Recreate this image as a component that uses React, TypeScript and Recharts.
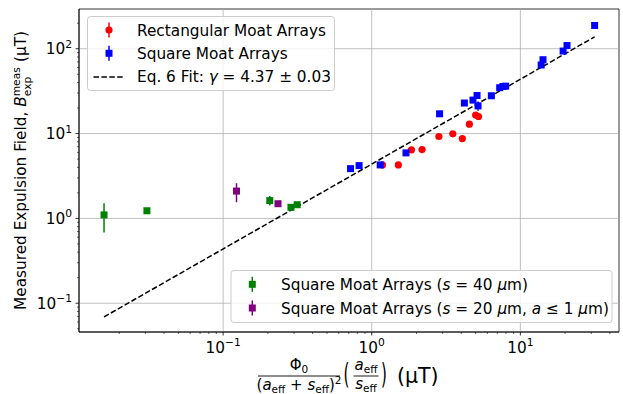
import React from "react";
import {
  ScatterChart,
  Scatter,
  XAxis,
  YAxis,
  ErrorBar,
  ReferenceLine,
  ReferenceArea,
} from "recharts";

// Rectangular moat arrays (red circles)
const rectX = [1.18, 1.51, 1.85, 2.18, 2.83, 3.51, 4.07, 4.54, 5.0, 5.23];
const rectY = [4.27, 4.27, 6.43, 6.47, 9.23, 9.92, 8.73, 12.9, 16.5, 15.9];
const rectErr = [0.15, 0.15, 0.2, 0.2, 0.3, 0.4, 0.3, 0.4, 0.5, 0.5];

// Square moat arrays (blue squares)
const sqX = [0.72, 0.822, 1.14, 1.7, 2.86, 4.2, 4.8, 5.11, 5.19, 6.38, 7.26, 7.64, 7.96, 13.8, 14.2, 19.4, 20.6, 31.6];
const sqY = [3.86, 4.19, 4.27, 5.92, 17.1, 22.9, 24.8, 28.1, 21.2, 27.9, 34.7, 35.9, 36.2, 64.3, 74.2, 93.9, 109, 188];
const sqErr = [0.1, 0.1, 0.1, 0.2, 0.5, 0.6, 0.6, 0.8, 2.6, 0.8, 1, 1, 1, 2, 2, 3, 3, 5];

// Square moat arrays, s = 40 um (green)
const s40X = [0.0158, 0.0307, 0.206, 0.286, 0.315];
const s40Y = [1.1, 1.23, 1.62, 1.35, 1.45];
const s40Lo = [0.42, 0.04, 0.2, 0.12, 0.05];
const s40Hi = [0.41, 0.04, 0.22, 0.12, 0.05];

// Square moat arrays, s = 20 um, a <= 1 um (purple)
const s20X = [0.123, 0.234];
const s20Y = [2.1, 1.49];
const s20Lo = [0.55, 0.04];
const s20Hi = [0.5, 0.04];

// Eq. 6 fit line endpoints
const fitX = [0.0158, 31.6];
const fitY = [0.069, 138];

const xMajor = [0.1, 1, 10];
const xExp = ["\u22121", "0", "1"];
const yMajor = [0.1, 1, 10, 100];
const yExp = ["\u22121", "0", "1", "2"];

const xMin = 0.01072;
const xMax = 46.1;
const yMin = 0.0458;
const yMax = 294;

const W = 623;
const H = 394;
const PL = 79;
const PR = 4;
const PT = 9;
const PB = 62;

const font = "'DejaVu Sans', sans-serif";

const decades = [0.01, 0.1, 1, 10, 100];
function minors(lo: number, hi: number) {
  const out: number[] = [];
  for (const d of decades)
    for (let m = 2; m <= 9; m++) {
      const v = +(d * m).toPrecision(3);
      if (v > lo && v < hi) out.push(v);
    }
  return out;
}
const xTicks = [...xMajor, ...minors(xMin, xMax)].sort((a, b) => a - b);
const yTicks = [...yMajor, ...minors(yMin, yMax)].sort((a, b) => a - b);

const rectData = rectX.map((x, i) => ({ x, y: rectY[i], err: rectErr[i] }));
const sqData = sqX.map((x, i) => ({ x, y: sqY[i], err: sqErr[i] }));
const s40Data = s40X.map((x, i) => ({ x, y: s40Y[i], err: [s40Lo[i], s40Hi[i]] }));
const s20Data = s20X.map((x, i) => ({ x, y: s20Y[i], err: [s20Lo[i], s20Hi[i]] }));
const fitData = fitX.map((x, i) => ({ x, y: fitY[i] }));

function XTick(props: any) {
  const { x, y, payload } = props;
  const i = xMajor.indexOf(payload.value);
  if (i < 0) return <line x1={x} x2={x} y1={y} y2={y + 2} stroke="#000" strokeWidth={0.6} />;
  return (
    <g>
      <line x1={x} x2={x} y1={y} y2={y + 3.5} stroke="#000" strokeWidth={0.8} />
      <text x={x} y={y + 20.5} textAnchor="middle" fontSize={15.3} fontFamily={font} fill="#000">
        10<tspan fontSize={10.7} dy={-6.5}>{xExp[i]}</tspan>
      </text>
    </g>
  );
}

function YTick(props: any) {
  const { x, y, payload } = props;
  const i = yMajor.indexOf(payload.value);
  if (i < 0) return <line x1={x - 2} x2={x} y1={y} y2={y} stroke="#000" strokeWidth={0.6} />;
  return (
    <g>
      <line x1={x - 3.5} x2={x} y1={y} y2={y} stroke="#000" strokeWidth={0.8} />
      <text x={x - 7} y={y + 5.5} textAnchor="end" fontSize={15.3} fontFamily={font} fill="#000">
        10<tspan fontSize={10.7} dy={-6.5}>{yExp[i]}</tspan>
      </text>
    </g>
  );
}

function YLabel() {
  const cx = 25.5;
  const cy = PT + (H - PT - PB) / 2;
  return (
    <text
      transform={`translate(${cx},${cy}) rotate(-90)`}
      textAnchor="middle"
      fontSize={15.3}
      fontFamily={font}
      fill="#000"
    >
      Measured Expulsion Field, <tspan fontStyle="italic">B</tspan>
      <tspan fontSize={10.7} dy={-6}>meas</tspan>
      <tspan fontSize={10.7} dx={-29} dy={11}>exp</tspan>
      <tspan dx={9.8} dy={-5}> (μT)</tspan>
    </text>
  );
}

function XLabel() {
  const cx = PL + (W - PL - PR) / 2;
  const f1 = cx - 50;
  const f2 = cx + 17;
  const barY = 376;
  return (
    <g fontFamily={font} fill="#000">
      <text x={f1} y={370} textAnchor="middle" fontSize={15}>
        Φ<tspan fontSize={10.5} dy={3}>0</tspan>
      </text>
      <line x1={f1 - 41} x2={f1 + 41} y1={barY} y2={barY} stroke="#000" strokeWidth={0.9} />
      <text x={f1} y={390} textAnchor="middle" fontSize={15}>
        (<tspan fontStyle="italic">a</tspan>
        <tspan fontSize={10.5} dy={3}>eff</tspan>
        <tspan dy={-3}> + </tspan>
        <tspan fontStyle="italic">s</tspan>
        <tspan fontSize={10.5} dy={3}>eff</tspan>
        <tspan dy={-3}>)</tspan>
        <tspan fontSize={10.5} dy={-6}>2</tspan>
      </text>
      <text transform={`translate(${cx - 5.5},384) scale(1,1.9)`} fontSize={15}>(</text>
      <text x={f2} y={370} textAnchor="middle" fontSize={15}>
        <tspan fontStyle="italic">a</tspan>
        <tspan fontSize={10.5} dy={3}>eff</tspan>
      </text>
      <line x1={f2 - 12.5} x2={f2 + 12.5} y1={barY} y2={barY} stroke="#000" strokeWidth={0.9} />
      <text x={f2} y={389} textAnchor="middle" fontSize={15}>
        <tspan fontStyle="italic">s</tspan>
        <tspan fontSize={10.5} dy={3}>eff</tspan>
      </text>
      <text transform={`translate(${cx + 32},384) scale(1,1.9)`} fontSize={15}>)</text>
      <text x={cx + 48} y={383} fontSize={20.5}>(μT)</text>
    </g>
  );
}

const squareShape = (color: string) => (p: any) =>
  <rect x={p.cx - 3.5} y={p.cy - 3.5} width={7} height={7} fill={color} />;
const circleShape = (color: string) => (p: any) =>
  <circle cx={p.cx} cy={p.cy} r={3.6} fill={color} />;

function Legends() {
  const txt = { fontSize: 15.3, fontFamily: font, fill: "#000" } as any;
  return (
    <svg
      width={W}
      height={H}
      style={{ position: "absolute", left: 0, top: 0, pointerEvents: "none" }}
    >
      <rect x={87.5} y={16.5} width={247} height={74} rx={3} fill="#fff" fillOpacity={0.8} stroke="#cccccc" />
      <line x1={109} x2={109} y1={22.5} y2={37.5} stroke="#ff0000" strokeWidth={1.5} />
      <circle cx={109} cy={30} r={3.6} fill="#ff0000" />
      <text x={137} y={35.5} {...txt}>Rectangular Moat Arrays</text>
      <line x1={109} x2={109} y1={45.8} y2={60.8} stroke="#0000ff" strokeWidth={1.5} />
      <rect x={105.5} y={49.8} width={7} height={7} fill="#0000ff" />
      <text x={137} y={58.8} {...txt}>Square Moat Arrays</text>
      <line x1={93.5} x2={123.5} y1={77} y2={77} stroke="#000" strokeWidth={1.5} strokeDasharray="5.5 2.4" />
      <text x={137} y={82} {...txt}>
        Eq. 6 Fit: <tspan fontStyle="italic">γ</tspan> = 4.37 ± 0.03
      </text>

      <rect x={231} y={270.5} width={381} height={52} rx={3} fill="#fff" fillOpacity={0.8} stroke="#cccccc" />
      <line x1={252.3} x2={252.3} y1={276.8} y2={291.8} stroke="#008000" strokeWidth={1.5} />
      <rect x={248.8} y={280.8} width={7} height={7} fill="#008000" />
      <text x={281} y={289.8} {...txt}>
        Square Moat Arrays (<tspan fontStyle="italic">s</tspan> = 40 <tspan fontStyle="italic">μ</tspan>m)
      </text>
      <line x1={252.3} x2={252.3} y1={300.5} y2={315.5} stroke="#800080" strokeWidth={1.5} />
      <rect x={248.8} y={304.5} width={7} height={7} fill="#800080" />
      <text x={281} y={313.5} {...txt}>
        Square Moat Arrays (<tspan fontStyle="italic">s</tspan> = 20 <tspan fontStyle="italic">μ</tspan>m,{" "}
        <tspan fontStyle="italic">a</tspan> ≤ 1 <tspan fontStyle="italic">μ</tspan>m)
      </text>
    </svg>
  );
}

export default function App() {
  return (
    <div style={{ position: "absolute", left: 0, top: 0, width: W, height: H, background: "#fff" }}>
      <ScatterChart width={W} height={H} margin={{ top: PT, right: PR, bottom: 0, left: 0 }}>
        <XAxis
          type="number"
          dataKey="x"
          scale="log"
          domain={[xMin, xMax]}
          allowDataOverflow
          ticks={xTicks}
          interval={0}
          tick={<XTick />}
          tickLine={false}
          tickSize={0}
          tickMargin={0}
          height={PB}
          axisLine={{ stroke: "#000", strokeWidth: 0.8 }}
          label={<XLabel />}
        />
        <YAxis
          type="number"
          dataKey="y"
          scale="log"
          domain={[yMin, yMax]}
          allowDataOverflow
          ticks={yTicks}
          interval={0}
          tick={<YTick />}
          tickLine={false}
          tickSize={0}
          tickMargin={0}
          width={PL}
          axisLine={{ stroke: "#000", strokeWidth: 0.8 }}
          label={<YLabel />}
        />
        {xMajor.map((v) => (
          <ReferenceLine key={"gx" + v} x={v} stroke="#b0b0b0" strokeWidth={0.8} />
        ))}
        {yMajor.map((v) => (
          <ReferenceLine key={"gy" + v} y={v} stroke="#b0b0b0" strokeWidth={0.8} />
        ))}
        <ReferenceArea x1={xMin} x2={xMax} y1={yMin} y2={yMax} fill="none" stroke="#000" strokeWidth={0.8} />
        <Scatter
          data={fitData}
          line={{ stroke: "#000", strokeWidth: 1.5, strokeDasharray: "5.5 2.4" }}
          shape={() => <g />}
          isAnimationActive={false}
        />
        <Scatter data={rectData} shape={circleShape("#ff0000")} isAnimationActive={false}>
          <ErrorBar dataKey="err" direction="y" width={0} stroke="#ff0000" strokeWidth={1.5} />
        </Scatter>
        <Scatter data={sqData} shape={squareShape("#0000ff")} isAnimationActive={false}>
          <ErrorBar dataKey="err" direction="y" width={0} stroke="#0000ff" strokeWidth={1.5} />
        </Scatter>
        <Scatter data={s40Data} shape={squareShape("#008000")} isAnimationActive={false}>
          <ErrorBar dataKey="err" direction="y" width={0} stroke="#008000" strokeWidth={1.5} />
        </Scatter>
        <Scatter data={s20Data} shape={squareShape("#800080")} isAnimationActive={false}>
          <ErrorBar dataKey="err" direction="y" width={0} stroke="#800080" strokeWidth={1.5} />
        </Scatter>
      </ScatterChart>
      <Legends />
    </div>
  );
}
